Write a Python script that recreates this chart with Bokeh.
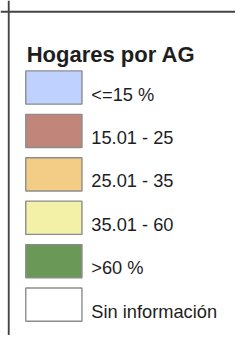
from bokeh.plotting import figure
from bokeh.models import ColumnDataSource, Range1d, Span
from bokeh.core.properties import value
from bokeh.embed import file_html
from bokeh.resources import INLINE

title = "Hogares por AG"
categories = ["<=15 %", "15.01 - 25", "25.01 - 35", "35.01 - 60", ">60 %", "Sin información"]
colors = ["#BFD2FF", "#C1857A", "#F3CC85", "#F3F1A8", "#6A9856", "#FFFFFF"]

# data space = reference pixel space (251 x 358), drawn at 235 x 335 (uniform scale)
RW, RH = 251, 358
W, H = 235, 335
s = W / RW

p = figure(width=W, height=H, output_backend="svg", toolbar_location=None,
           x_range=Range1d(0, RW), y_range=Range1d(RH, 0), min_border=0)
p.axis.visible = False
p.grid.visible = False
p.outline_line_color = None
p.background_fill_color = "white"
p.border_fill_color = "white"

step = 46.4
y0 = 93
ys = [y0 + i * step for i in range(len(categories))]
src = ColumnDataSource(dict(y=ys, ty=[y + 7 for y in ys], label=categories, color=colors,
                            x=[57] * len(ys), tx=[97] * len(ys)))

p.rect(x="x", y="y", width=60, height=35.5, fill_color="color", line_color="#8C8C8C",
       line_width=1.5 * s, source=src)
p.text(x="tx", y="ty", text="label", source=src, text_font=value("Liberation Sans"),
       text_font_size=f"{19.5 * s:.2f}px", text_color="#1E1E1E", text_baseline="alphabetic",
       text_align="left")
p.text(x=[28], y=[58], text=[title], text_font=value("Liberation Sans"),
       text_font_size=f"{23.5 * s:.2f}px", text_font_style="bold", text_color="#1E1E1E",
       text_baseline="alphabetic", text_align="left")

p.add_layout(Span(location=8.8, dimension="height", line_color="#444444", line_width=2 * s))
p.add_layout(Span(location=12, dimension="width", line_color="#444444", line_width=2 * s))

open("out.html", "w").write(file_html(p, INLINE))
